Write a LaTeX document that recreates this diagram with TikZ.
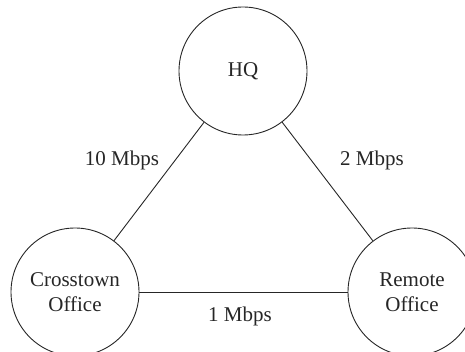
\documentclass[tikz,border=0pt]{standalone}
\usepackage{fontspec}
\setmainfont{Liberation Serif}
\begin{document}
\begin{tikzpicture}[x=1pt,y=-1pt,
  site/.style={circle,draw=black!85,text=black!85,line width=0.9pt,minimum size=128pt,inner sep=0pt,align=center,font=\fontsize{21}{25}\selectfont},
  link/.style={draw=black!85,line width=0.9pt},
  lbl/.style={text=black!85,font=\fontsize{21}{24}\selectfont,inner sep=0pt}]
\clip (0,0) rectangle (465,352);
\node[site] (hq) at (243,71) {HQ};
\node[site] (ct) at (75,292) {Crosstown\\Office};
\node[site] (ro) at (412,292) {Remote\\Office};
\draw[link] (hq) -- (ct);
\draw[link] (hq) -- (ro);
\draw[link] (ct) -- (ro);
\node[lbl] (l10) at (122,160) {10 Mbps};
\node[lbl] (l2) at (372,160) {2 Mbps};
\node[lbl] (l1) at (240,316) {1 Mbps};
\end{tikzpicture}
\end{document}
